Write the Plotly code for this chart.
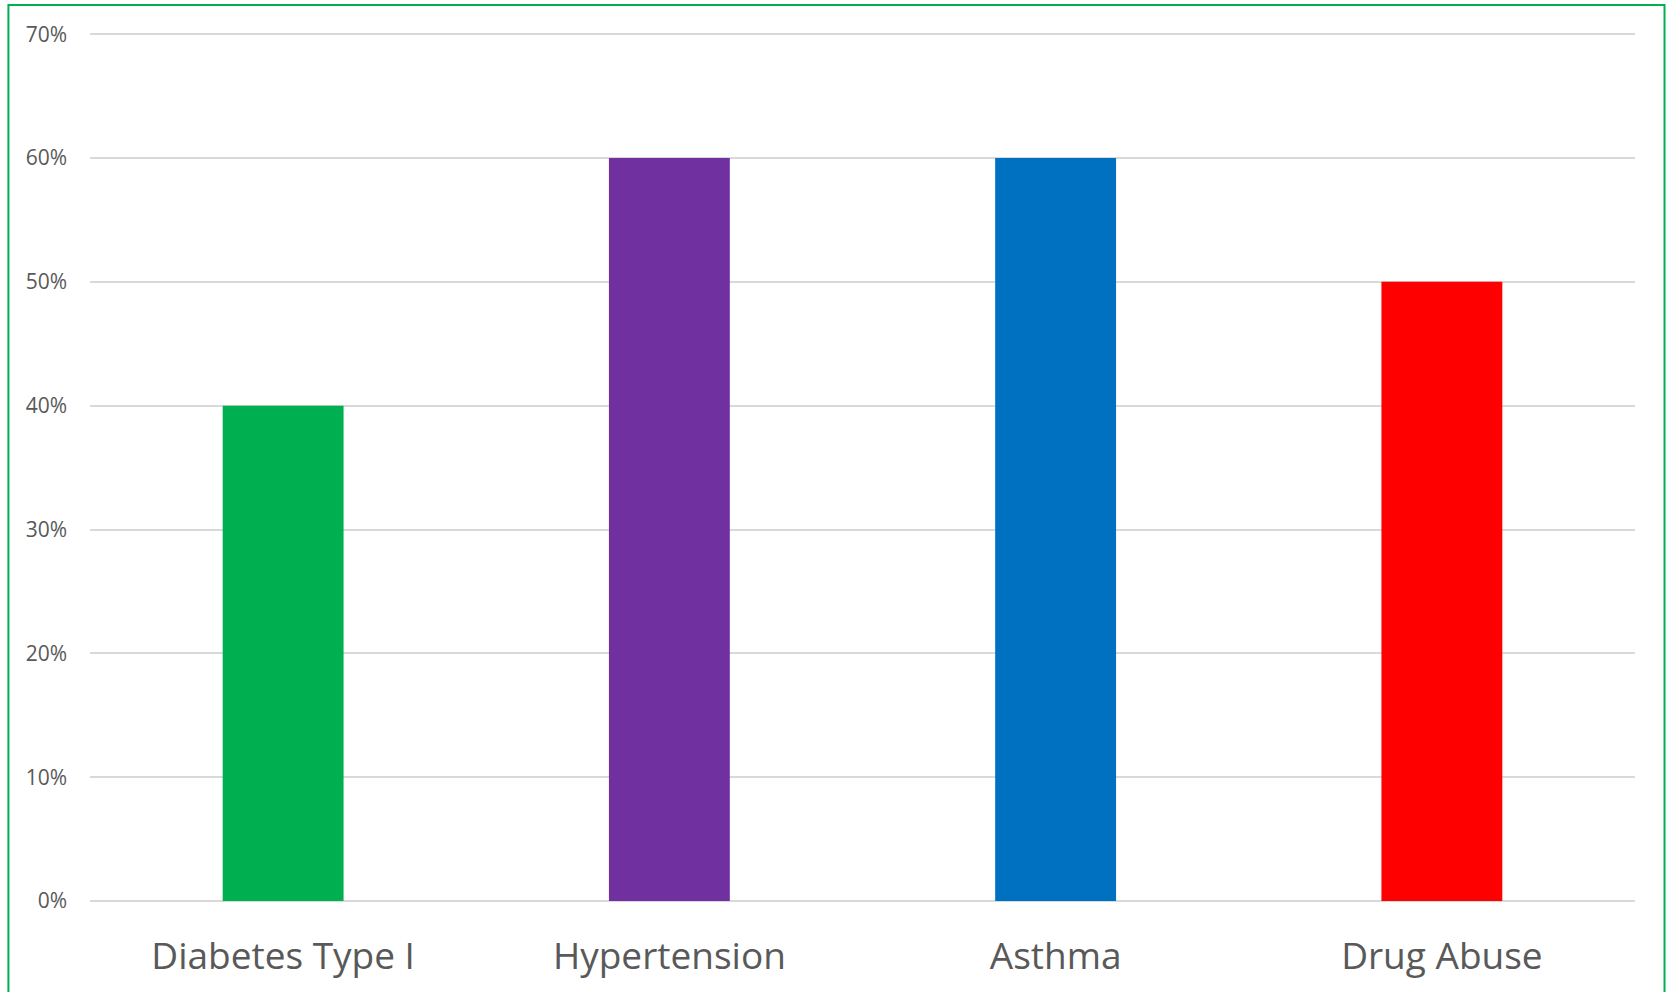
import plotly.graph_objects as go

categories = ["Diabetes Type I", "Hypertension", "Asthma", "Drug Abuse"]
values = [0.40, 0.60, 0.60, 0.50]
colors = ["#00B050", "#7030A0", "#0070C0", "#FF0000"]
y_ticks = [0, 0.1, 0.2, 0.3, 0.4, 0.5, 0.6, 0.7]
y_tick_labels = ["0%", "10%", "20%", "30%", "40%", "50%", "60%", "70%"]

fig = go.Figure(go.Bar(x=categories, y=values, marker=dict(color=colors, line=dict(width=0)),
                       width=0.313))

fig.update_layout(
    width=1669, height=992,
    margin=dict(l=90, r=34, t=28, b=91),
    paper_bgcolor="white", plot_bgcolor="white",
    showlegend=False,
    font=dict(family="Open Sans", color="#595959"),
)
fig.update_yaxes(range=[0, 0.705], tickvals=y_ticks, ticktext=y_tick_labels,
                 showgrid=True, gridcolor="#D9D9D9", gridwidth=1.5,
                 zeroline=True, zerolinecolor="#D9D9D9", zerolinewidth=1.5,
                 tickfont=dict(size=21, color="#595959"), ticklabelstandoff=22,
                 showline=False)
fig.update_xaxes(tickfont=dict(size=37, color="#595959"), ticklabelstandoff=30,
                 showline=False, showgrid=False)

fig.add_shape(type="rect", xref="paper", yref="paper",
              x0=-0.0528, x1=1.0191, y0=-0.2, y1=1.0264,
              line=dict(color="#00B050", width=2), fillcolor="rgba(0,0,0,0)", layer="above")

fig.write_html("out.html")
